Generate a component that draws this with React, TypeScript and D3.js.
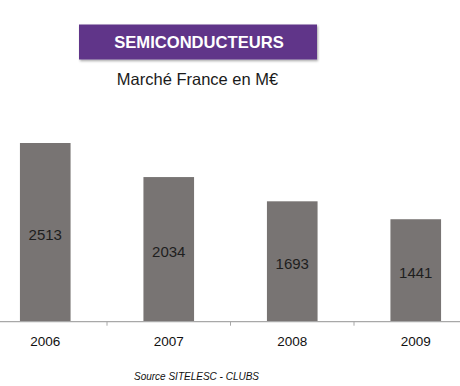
import React from "react";
import * as d3 from "d3";

const years = ["2006", "2007", "2008", "2009"];
const values = [2513, 2034, 1693, 1441];
const titleText = "SEMICONDUCTEURS";
const subtitleText = "Marché France en M€";
const sourceText = "Source SITELESC - CLUBS";

const W = 460;
const H = 386;

export default function App() {
  const baseline = 321.7;
  const x = d3
    .scaleBand<string>()
    .domain(years)
    .range([-16.5, 477.5])
    .paddingInner(0.59)
    .paddingOuter(0.295);
  const y = d3.scaleLinear().domain([0, 2513]).range([baseline, 143]);
  const step = x.step();
  const ticks = years.slice(1).map((yr) => (x(yr) as number) - (step * x.paddingInner()) / 2);

  return (
    <svg
      width={W}
      height={H}
      style={{ position: "absolute", left: 0, top: 0, background: "#fff" }}
      fontFamily="'Liberation Sans', Arial, sans-serif"
    >
      <defs>
        <filter id="sh" x="-5%" y="-20%" width="110%" height="150%">
          <feDropShadow dx="1" dy="1.5" stdDeviation="1" floodColor="#000" floodOpacity="0.35" />
        </filter>
      </defs>
      <rect x={79} y={24.5} width={238} height={35} fill="#603689" filter="url(#sh)" />
      <text x={199} y={48} textAnchor="middle" fill="#fff" fontWeight="bold" fontSize={16.6}>
        {titleText}
      </text>
      <text x={197.5} y={84.7} textAnchor="middle" fill="#1a1a1a" fontSize={16.5}>
        {subtitleText}
      </text>
      {years.map((yr, i) => (
        <rect
          key={yr}
          x={x(yr)}
          y={y(values[i])}
          width={x.bandwidth()}
          height={baseline - y(values[i])}
          fill="#787473"
        />
      ))}
      {years.map((yr, i) => (
        <text
          key={"v" + yr}
          x={(x(yr) as number) + x.bandwidth() / 2}
          y={(y(values[i]) + baseline) / 2 + 7.3}
          textAnchor="middle"
          fontSize={15}
          fill="#1e1e1e"
        >
          {values[i]}
        </text>
      ))}
      <line x1={0} x2={W} y1={baseline} y2={baseline} stroke="#a8a8a8" strokeWidth={1.2} />
      {ticks.map((t, i) => (
        <line key={"t" + i} x1={t} x2={t} y1={baseline} y2={baseline + 4} stroke="#a8a8a8" strokeWidth={1} />
      ))}
      {years.map((yr) => (
        <text
          key={"l" + yr}
          x={(x(yr) as number) + x.bandwidth() / 2}
          y={346.3}
          textAnchor="middle"
          fontSize={13.5}
          fill="#111"
        >
          {yr}
        </text>
      ))}
      <text x={196.5} y={380} textAnchor="middle" fontSize={10} fontStyle="italic" fill="#111">
        {sourceText}
      </text>
    </svg>
  );
}
